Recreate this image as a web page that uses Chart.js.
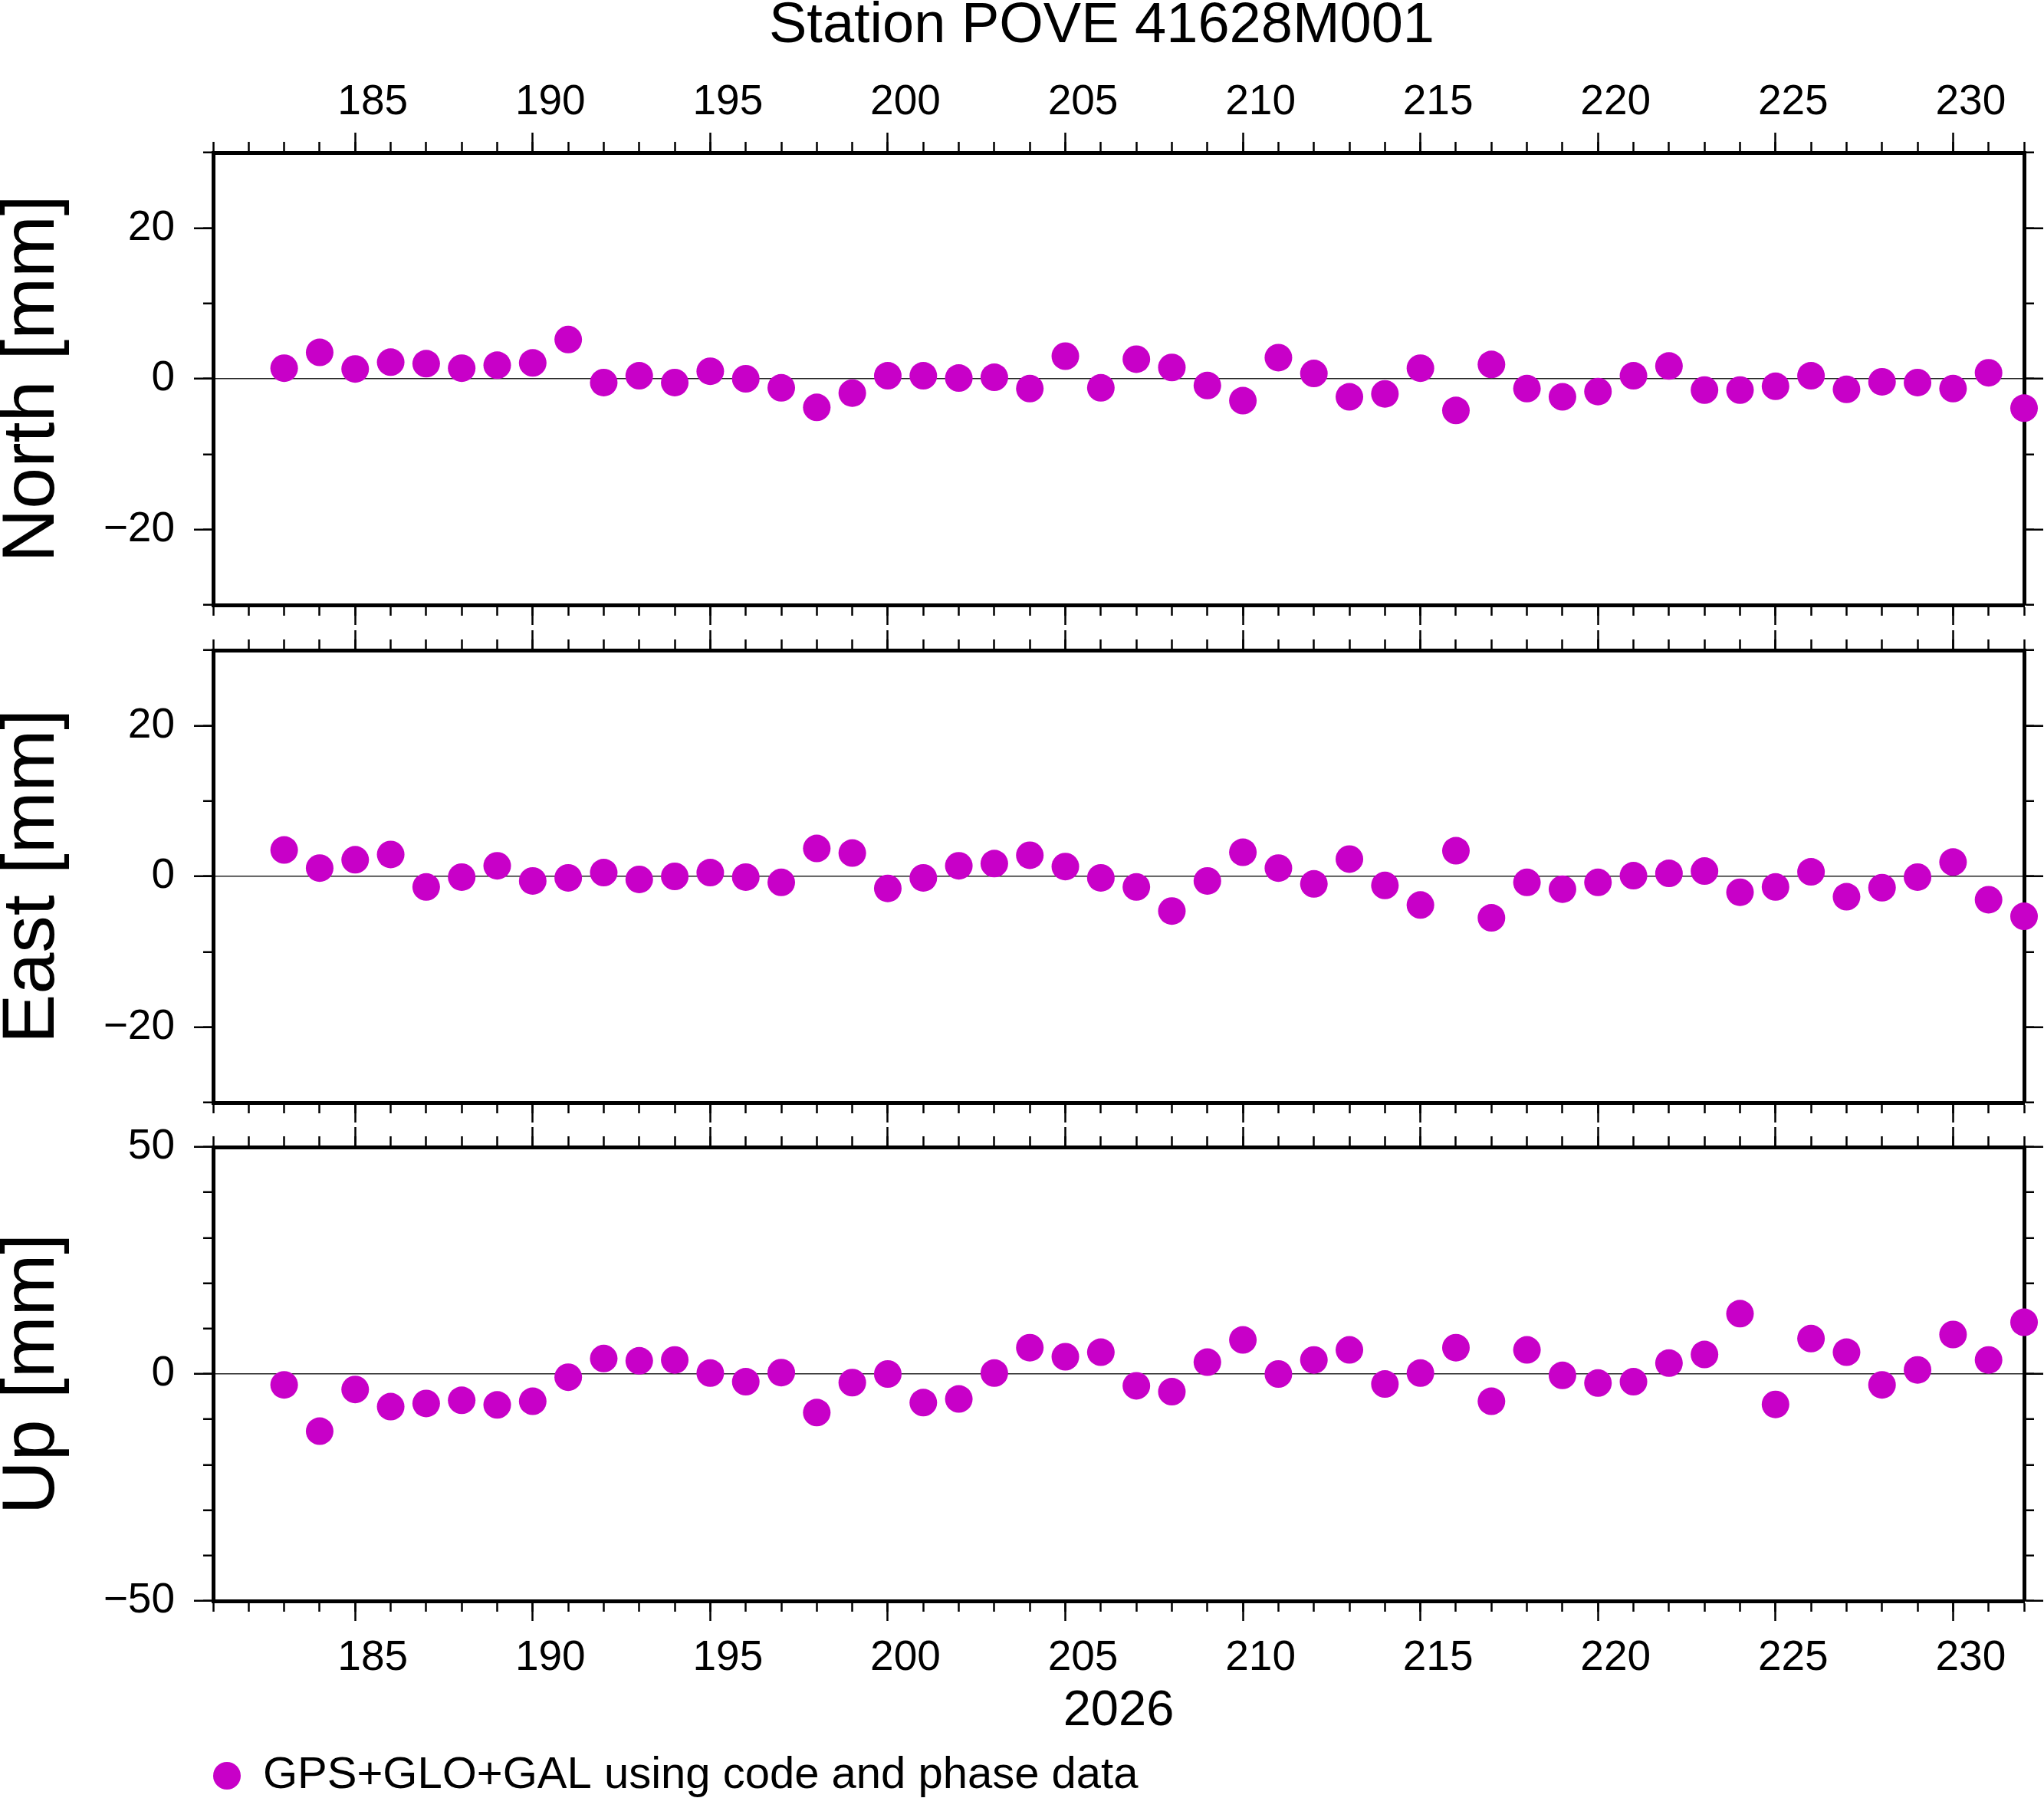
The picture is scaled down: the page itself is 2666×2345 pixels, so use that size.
<!DOCTYPE html>
<html>
<head>
<meta charset="utf-8">
<script src="https://cdn.jsdelivr.net/npm/chart.js@4.4.1/dist/chart.umd.min.js"></script>
<style>
html, body { margin: 0; padding: 0; background: #ffffff; overflow: hidden; }
#wrap { position: relative; width: 2666px; height: 2345px; background: #ffffff; overflow: hidden; }
#wrap canvas { position: absolute; left: 0; }
</style>
</head>
<body>
<div id="wrap">
  <canvas id="cN" width="2666" height="818" style="top:0px"></canvas>
  <canvas id="cE" width="2666" height="649" style="top:818px"></canvas>
  <canvas id="cU" width="2666" height="888" style="top:1467px"></canvas>
</div>
<script>
// ---------- data ----------
const chartTitle = 'Station POVE 41628M001';
const yearLabel = '2026';
const seriesLabel = 'GPS+GLO+GAL using code and phase data';
const panelLabels = ['North [mm]', 'East [mm]', 'Up [mm]'];

const days = [183, 184, 185, 186, 187, 188, 189, 190, 191, 192,
              193, 194, 195, 196, 197, 198, 199, 200, 201, 202,
              203, 204, 205, 206, 207, 208, 209, 210, 211, 212,
              213, 214, 215, 216, 217, 218, 219, 220, 221, 222,
              223, 224, 225, 226, 227, 228, 229, 230, 231, 232];

const north = [1.4, 3.5, 1.3, 2.2, 2.0, 1.4, 1.8, 2.1, 5.2, -0.5,
               0.4, -0.5, 1.0, 0.0, -1.2, -3.8, -1.9, 0.4, 0.4, 0.1,
               0.2, -1.3, 3.0, -1.2, 2.6, 1.5, -0.9, -2.9, 2.8, 0.7,
               -2.4, -2.0, 1.4, -4.2, 1.9, -1.3, -2.4, -1.7, 0.4, 1.7,
               -1.5, -1.5, -1.0, 0.4, -1.4, -0.4, -0.5, -1.3, 0.8, -3.9];

const east = [3.5, 1.1, 2.2, 2.9, -1.4, -0.1, 1.4, -0.6, -0.2, 0.5,
              -0.4, 0.0, 0.5, -0.1, -0.8, 3.7, 3.1, -1.6, -0.2, 1.4,
              1.7, 2.8, 1.3, -0.2, -1.4, -4.6, -0.6, 3.2, 1.1, -1.0,
              2.3, -1.2, -3.8, 3.4, -5.5, -0.8, -1.7, -0.8, 0.1, 0.4,
              0.7, -2.1, -1.4, 0.6, -2.7, -1.5, -0.1, 1.9, -3.1, -5.3];

const up = [-2.4, -12.6, -3.4, -7.2, -6.5, -5.8, -6.8, -6.0, -0.7, 3.4,
            2.9, 3.1, 0.2, -1.7, 0.3, -8.5, -1.9, 0.0, -6.3, -5.5,
            0.2, 5.8, 3.8, 4.8, -2.6, -3.9, 2.6, 7.5, 0.0, 3.1,
            5.3, -2.2, 0.2, 5.8, -6.0, 5.3, -0.3, -2.0, -1.7, 2.4,
            4.3, 13.3, -6.7, 7.8, 4.8, -2.4, 0.9, 8.7, 3.1, 11.4];

const xRange = [181, 232];
const xMinorTicks = [181, 182, 183, 184, 185, 186, 187, 188, 189, 190,
                     191, 192, 193, 194, 195, 196, 197, 198, 199, 200,
                     201, 202, 203, 204, 205, 206, 207, 208, 209, 210,
                     211, 212, 213, 214, 215, 216, 217, 218, 219, 220,
                     221, 222, 223, 224, 225, 226, 227, 228, 229, 230,
                     231, 232];
const xMajorTicks = [185, 190, 195, 200, 205, 210, 215, 220, 225, 230];

const neRange = [-30, 30];
const neMinorTicks = [-30, -20, -10, 0, 10, 20, 30];
const neMajorTicks = [-20, 0, 20];

const upRange = [-50, 50];
const upMinorTicks = [-50, -40, -30, -20, -10, 0, 10, 20, 30, 40, 50];
const upMajorTicks = [-50, 0, 50];

// ---------- style ----------
const FONT = "'Liberation Sans', Arial, Helvetica, sans-serif";
const POINT_COLOR = '#c800c8';
Chart.defaults.font.family = FONT;
Chart.defaults.color = '#000000';

const LEFT_W = 278;
const RIGHT_W = 26;
const BORDER_W = 5;
const TICK_W = 2.5;

function fixSize(prop, size) {
  return function (s) {
    s[prop] = size;
    s.paddingLeft = 0; s.paddingRight = 0; s.paddingTop = 0; s.paddingBottom = 0;
  };
}
function useTicks(list) {
  return function (s) { s.ticks = list.map(v => ({ value: v })); };
}
function fmt(v) { return v < 0 ? '\u2212' + Math.abs(v) : String(v); }

function borderOpts() { return { display: true, color: '#000000', width: BORDER_W }; }

function xAxis(position, major, size, showLabels, titleOpts, labelPad, weight) {
  return {
    type: 'linear', position: position, min: xRange[0], max: xRange[1], bounds: 'data',
    weight: weight,
    afterBuildTicks: useTicks(major ? xMajorTicks : xMinorTicks),
    afterFit: fixSize('height', size),
    grid: { drawOnChartArea: false, drawTicks: true, tickLength: major ? 26 : 14,
            tickWidth: TICK_W, tickColor: '#000000', color: '#000000', lineWidth: 1 },
    border: borderOpts(),
    ticks: { display: showLabels, autoSkip: false, maxRotation: 0, minRotation: 0,
             labelOffset: 23, padding: labelPad, color: '#000000',
             font: { family: FONT, size: 55 }, callback: v => String(v) },
    title: titleOpts || { display: false }
  };
}

function yAxis(position, ticksList, range, major, size, showLabels, titleOpts, weight) {
  return {
    type: 'linear', position: position, min: range[0], max: range[1], bounds: 'data',
    weight: weight,
    afterBuildTicks: useTicks(ticksList),
    afterFit: fixSize('width', size),
    grid: {
      drawOnChartArea: major && position === 'left',
      drawTicks: true,
      tickLength: major ? 25 : 13,
      tickWidth: TICK_W,
      tickColor: '#000000',
      color: ctx => (ctx.tick && ctx.tick.value === 0) ? '#222222' : 'rgba(0,0,0,0)',
      lineWidth: 1.5
    },
    border: borderOpts(),
    ticks: { display: showLabels, autoSkip: false, padding: 25, color: '#000000',
             font: { family: FONT, size: 55 }, callback: v => fmt(v) },
    title: titleOpts || { display: false }
  };
}

function makePanel(canvasId, values, yLabel, range, minorTicks, majorTicks, cfg) {
  // a negative right padding only widens the full-width title box (to centre the title like the reference)
  const padRight = cfg.padRight || 0;
  const scales = {
    xb: xAxis('bottom', false, 0, false, null, 0, 0),
    x: xAxis('bottom', true, cfg.bottomH, cfg.bottomLabels, cfg.bottomTitle, 16, 1),
    xt: xAxis('top', false, 0, false, null, 0, 0),
    xtM: xAxis('top', true, cfg.topH, cfg.topLabels, null, 6, 1),
    yl: yAxis('left', minorTicks, range, false, 0, false, null, 0),
    y: yAxis('left', majorTicks, range, true, LEFT_W, true, {
      display: true, text: yLabel, color: '#000000', padding: { top: 4, bottom: 0 },
      font: { family: FONT, size: 97, lineHeight: 0.8 }
    }, 1),
    yr: yAxis('right', minorTicks, range, false, 0, false, null, 0),
    yrM: yAxis('right', majorTicks, range, true, RIGHT_W - padRight, false, null, 1)
  };
  return new Chart(document.getElementById(canvasId), {
    type: 'scatter',
    data: {
      datasets: [{
        label: seriesLabel,
        data: days.map((d, i) => ({ x: d, y: values[i] })),
        xAxisID: 'x', yAxisID: 'y',
        backgroundColor: POINT_COLOR,
        borderColor: POINT_COLOR,
        pointBackgroundColor: POINT_COLOR,
        pointBorderColor: POINT_COLOR,
        pointBorderWidth: 0,
        pointRadius: 18,
        pointHoverRadius: 18,
        pointStyle: 'circle',
        showLine: false,
        clip: false
      }]
    },
    options: {
      responsive: false,
      maintainAspectRatio: false,
      devicePixelRatio: 1,
      animation: false,
      events: [],
      layout: { padding: { left: 0, right: padRight, top: 0, bottom: 0 } },
      scales: scales,
      plugins: {
        tooltip: { enabled: false },
        title: cfg.title ? {
          display: true, text: chartTitle, position: 'top', align: 'center', fullSize: true,
          color: '#000000', padding: { top: 4, bottom: 0 },
          font: { family: FONT, size: 74, lineHeight: 0.82, weight: 'normal' }
        } : { display: false },
        legend: cfg.legend ? {
          display: true, position: 'bottom', align: 'start', fullSize: false,
          labels: {
            usePointStyle: true, pointStyle: 'circle', pointStyleWidth: 36, boxHeight: 25.5,
            padding: 0, color: '#000000', font: { family: FONT, size: 58 }
          }
        } : { display: false }
      }
    }
  });
}

// title box height = 74 * 0.82 + 4 = 64.68 ; chart area top at 199
makePanel('cN', north, panelLabels[0], neRange, neMinorTicks, neMajorTicks, {
  padRight: -208, title: true,
  topH: 199 - (74 * 0.82 + 4), topLabels: true,
  bottomH: 29, bottomLabels: false, bottomTitle: null, legend: false
});

makePanel('cE', east, panelLabels[1], neRange, neMinorTicks, neMajorTicks, {
  topH: 30, topLabels: false,
  bottomH: 29, bottomLabels: false, bottomTitle: null, legend: false
});

makePanel('cU', up, panelLabels[2], upRange, upMinorTicks, upMajorTicks, {
  topH: 29, topLabels: false,
  bottomH: 199, bottomLabels: true,
  bottomTitle: { display: true, text: yearLabel, color: '#000000', padding: { top: 0, bottom: 15.5 },
                 font: { family: FONT, size: 65, lineHeight: 1.2 } },
  legend: true
});
</script>
</body>
</html>
